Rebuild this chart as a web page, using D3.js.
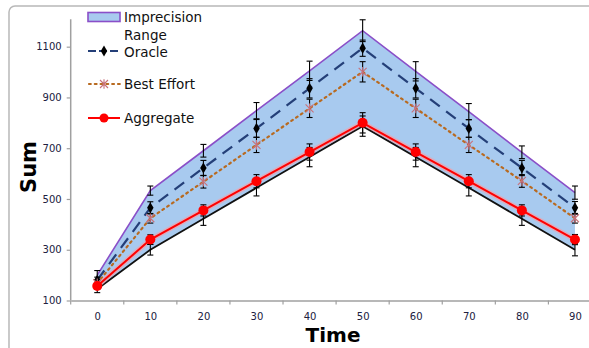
<!DOCTYPE html>
<html><head><meta charset="utf-8">
<script src="https://cdn.jsdelivr.net/npm/d3@7"></script>
<style>body{margin:0;background:#fff}svg{display:block}</style>
</head><body>
<svg id="c" width="589" height="348"></svg>
<script>
const times = [0,10,20,30,40,50,60,70,80,90];
const upper = [200,533,690,848,1005,1163,1003,844,684,525];
const lower = [145,300,422,544,665,787,665,544,422,300];
const oracle = [180,465,622,778,936,1094,936,778,622,465];
const bestEffort = [168,424,568,713,857,1001,857,713,571,424];
const aggregate = [157,340,455,570,685,800,685,570,455,340];
const upperErr = [18,18,25,32,38,43,38,32,25,26];
const oracleErr = [12,24,30,35,38,32,38,35,30,25];
const bestErr = [10,19,25,30,36,40,36,30,25,19];
const aggErr = [10,19,22,26,32,40,32,26,22,20];
const lowerErr = [14,21,26,32,38,40,38,32,26,24];
const yTicks = [100,300,500,700,900,1100];

const svg = d3.select("#c");
const L = 70.7, R = 601.5, T = 21.3, B = 300.5;
const x = d3.scalePoint().domain(times).range([L,R]).padding(0.5);
const xb = d3.scaleBand().domain(times).range([L,R]);
const y = d3.scaleLinear().domain([100,1200]).range([B,T]);

// outer border
svg.append("rect").attr("x",9).attr("y",6).attr("width",640).attr("height",400)
  .attr("rx",6).attr("fill","none").attr("stroke","#b8b8b8").attr("stroke-width",1.5);

// area
const area = d3.area().x((d,i)=>x(times[i])).y0((d,i)=>y(lower[i])).y1(d=>y(d));
svg.append("path").datum(upper).attr("d",area).attr("fill","#a8caef");

// axes
const gy = svg.append("g").attr("transform",`translate(${L},0)`)
  .call(d3.axisLeft(y).tickValues(yTicks).tickSize(4).tickPadding(5).tickFormat(d3.format("d")));
gy.select(".domain").attr("d",`M0,${T-2}V${B}`);
const gx = svg.append("g").attr("transform",`translate(0,${B})`)
  .call(d3.axisBottom(x).tickSize(0).tickPadding(12));
gx.selectAll(".tickb").data(times).enter().append("line").attr("class","tickb")
  .attr("x1",d=>xb(d)).attr("x2",d=>xb(d)).attr("y1",0).attr("y2",4);
[gx,gy].forEach(g=>{
  g.selectAll(".domain").attr("stroke","#a0a0a0").attr("stroke-width",1.5);
  g.selectAll("line").attr("stroke","#a0a0a0").attr("stroke-width",1.2);
  g.selectAll("text").attr("fill","#202040").attr("font-family","DejaVu Sans").attr("font-size",10);
});

const line = arr => d3.line().x((d,i)=>x(times[i])).y(d=>y(d))(arr);

// lines
svg.append("path").attr("d",line(upper)).attr("fill","none").attr("stroke","#8a4fc8").attr("stroke-width",1.6);
svg.append("path").attr("d",line(lower)).attr("fill","none").attr("stroke","#111").attr("stroke-width",1.8);
svg.append("path").attr("d",line(oracle)).attr("fill","none").attr("stroke","#243f78").attr("stroke-width",2.2).attr("stroke-dasharray","12,8");
svg.append("path").attr("d",line(bestEffort)).attr("fill","none").attr("stroke","#b86a20").attr("stroke-width",2.2).attr("stroke-dasharray","1.8,4").attr("stroke-linecap","round");
svg.append("path").attr("d",line(aggregate)).attr("fill","none").attr("stroke","#f3a0a8").attr("stroke-width",5).attr("opacity",0.7);
svg.append("path").attr("d",line(aggregate)).attr("fill","none").attr("stroke","#ff0000").attr("stroke-width",2);

// error bars
function errBars(vals, errs){
  const g = svg.append("g").attr("stroke","#000").attr("stroke-width",1.1);
  vals.forEach((v,i)=>{
    const cx = x(times[i]), y1 = y(v+errs[i]), y2 = y(v-errs[i]);
    g.append("line").attr("x1",cx).attr("x2",cx).attr("y1",y1).attr("y2",y2);
    g.append("line").attr("x1",cx-3).attr("x2",cx+3).attr("y1",y1).attr("y2",y1);
    g.append("line").attr("x1",cx-3).attr("x2",cx+3).attr("y1",y2).attr("y2",y2);
  });
}
errBars(upper, upperErr);
errBars(oracle, oracleErr);
errBars(bestEffort, bestErr);
errBars(aggregate, aggErr);
errBars(lower, lowerErr);

// markers
const diamond = d3.symbol().type(d3.symbolDiamond).size(36);
svg.append("g").selectAll("path").data(oracle).enter().append("path")
  .attr("d",diamond).attr("transform",(d,i)=>`translate(${x(times[i])},${y(d)})`).attr("fill","#000");
const cross = (cx,cy,s)=>`M${cx-s},${cy-s}L${cx+s},${cy+s}M${cx-s},${cy+s}L${cx+s},${cy-s}M${cx},${cy-s*1.2}V${cy+s*1.2}`;
svg.append("g").selectAll("path").data(bestEffort).enter().append("path")
  .attr("d",(d,i)=>cross(x(times[i]),y(d),4)).attr("stroke","#c8707a").attr("stroke-width",1.1).attr("fill","none");
svg.append("g").selectAll("circle").data(aggregate).enter().append("circle")
  .attr("cx",(d,i)=>x(times[i])).attr("cy",d=>y(d)).attr("r",5).attr("fill","#ff0000");

// legend
const lg = svg.append("g").attr("font-family","DejaVu Sans").attr("font-size",13.5).attr("fill","#111");
lg.append("rect").attr("x",88).attr("y",12.5).attr("width",32).attr("height",9).attr("fill","#a8caef").attr("stroke","#8a4fc8").attr("stroke-width",1.6);
lg.append("text").attr("x",124).attr("y",22).text("Imprecision");
lg.append("text").attr("x",124).attr("y",39.5).text("Range");
lg.append("text").attr("x",124).attr("y",56.5).text("Oracle");
lg.append("line").attr("x1",88).attr("x2",120).attr("y1",51).attr("y2",51).attr("stroke","#243f78").attr("stroke-width",2.2).attr("stroke-dasharray","8,3");
lg.append("path").attr("d",diamond).attr("transform","translate(104,51)").attr("fill","#000");
lg.append("line").attr("x1",89).attr("x2",120).attr("y1",84).attr("y2",84).attr("stroke","#b86a20").attr("stroke-width",2.2).attr("stroke-dasharray","1.8,4").attr("stroke-linecap","round");
lg.append("path").attr("d",cross(104,84,4)).attr("stroke","#c8707a").attr("stroke-width",1.1).attr("fill","none");
lg.append("text").attr("x",124).attr("y",89).text("Best Effort");
lg.append("line").attr("x1",88).attr("x2",120).attr("y1",118).attr("y2",118).attr("stroke","#ff0000").attr("stroke-width",2);
lg.append("circle").attr("cx",104).attr("cy",118).attr("r",4.5).attr("fill","#ff0000");
lg.append("text").attr("x",124).attr("y",123).text("Aggregate");

// axis titles
svg.append("text").attr("x",333).attr("y",342).attr("text-anchor","middle")
  .attr("font-family","DejaVu Sans").attr("font-weight","bold").attr("font-size",20).attr("fill","#000").text("Time");
svg.append("text").attr("transform","translate(36,167) rotate(-90)").attr("text-anchor","middle")
  .attr("font-family","DejaVu Sans").attr("font-weight","bold").attr("font-size",21).attr("fill","#000").text("Sum");
</script>
</body></html>
